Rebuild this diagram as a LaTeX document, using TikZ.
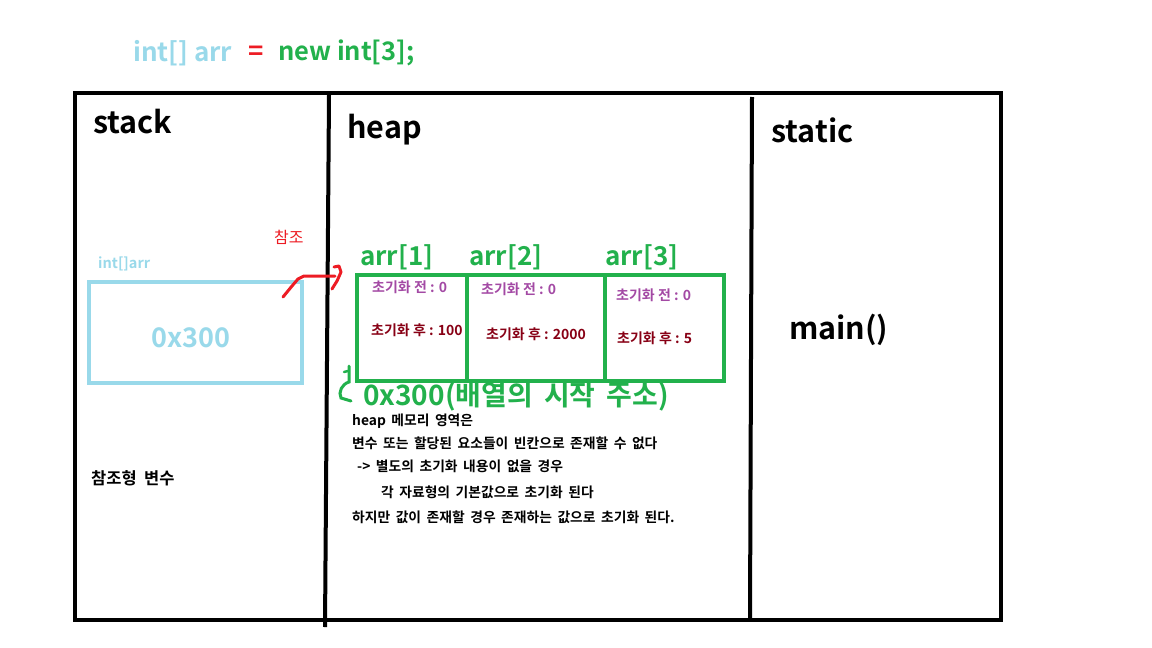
\documentclass[tikz,border=0pt]{standalone}
\usepackage{fontspec}
\setmainfont{Noto Sans CJK KR}[BoldFont={Noto Sans CJK KR Bold}]
\definecolor{lblue}{HTML}{99D9EA}
\definecolor{dgreen}{HTML}{22B14C}
\definecolor{pred}{HTML}{ED1C24}
\definecolor{ppurple}{HTML}{A349A4}
\definecolor{dred}{HTML}{880015}
\newcommand\mywsp[1]{\spaceskip=#1em\relax}
\tikzset{
  frame/.style={line width=4pt, black, line cap=rect},
  title/.style={font=\bfseries\fontsize{30.5}{32}\selectfont, anchor=west, inner sep=0pt},
  label/.style={font=\bfseries\fontsize{26}{28}\selectfont, anchor=west, inner sep=0pt},
  small/.style={font=\bfseries\fontsize{14}{16}\selectfont, anchor=west, inner sep=0pt},
  para/.style={font=\bfseries\fontsize{13.8}{16}\selectfont\mywsp{0.4}, anchor=west, inner sep=0pt},
  cellbox/.style={draw=dgreen, line width=4pt, minimum height=106pt, inner sep=0pt},
}
\begin{document}
\begin{tikzpicture}[x=1pt,y=-1pt]
\useasboundingbox[fill=white] (0,0) rectangle (1152,648);
% frame
\coordinate (tl) at (75,93);
\coordinate (tr) at (1001,93);
\coordinate (br) at (1001,620);
\coordinate (bl) at (75,620);
\draw[frame] (tl) -- (tr) -- (br) -- (bl) -- cycle;
\coordinate (d1t) at (329,95);
\coordinate (d1b) at (325,627);
\draw[line width=4pt] (d1t) -- (d1b);
\coordinate (d2t) at (752,97);
\coordinate (d2b) at (750,618);
\draw[line width=4pt] (d2t) -- (d2b);
% title
\node[label, font=\bfseries\fontsize{26}{28}\selectfont, text=lblue] (t1) at (133,53) {int[] arr};
\node[label, font=\bfseries\fontsize{26}{28}\selectfont, text=pred] (t2) at (248,53) {=};
\node[label, font=\bfseries\fontsize{25.5}{28}\selectfont, text=dgreen] (t3) at (278,53) {new int[3];};
% section titles
\node[title] (stack) at (93,122) {stack};
\node[title] (heap) at (347,130) {heap};
\node[title] (static) at (771,130) {static};
\node[title] (main) at (789,330) {main()};
% stack content
\node[small, text=lblue, font=\bfseries\fontsize{14.5}{16}\selectfont] (lbl) at (98,264) {int[]arr};
\node[draw=lblue, line width=4pt, minimum width=213pt, minimum height=101pt, inner sep=0pt] (sbox) at (195.5,332.5) {};
\node[font=\bfseries\fontsize{27}{29}\selectfont, text=lblue, inner sep=0pt] (sval) at (191,338) {0x300};
\node[small, font=\bfseries\fontsize{16.5}{18}\selectfont\mywsp{0.45}] (reftype) at (91,478) {참조형 변수};
\node[small, text=pred, font=\fontsize{16}{18}\selectfont] (ref) at (274,237) {참조};
% heap array
\node[cellbox, minimum width=110pt] (c1) at (412,328) {};
\node[cellbox, minimum width=138pt] (c2) at (536,328) {};
\node[cellbox, minimum width=119pt] (c3) at (664.5,328) {};
\node[label, text=dgreen] (a1) at (360,257) {arr[1]};
\node[label, text=dgreen] (a2) at (469,257) {arr[2]};
\node[label, text=dgreen] (a3) at (605,257) {arr[3]};
\node[small, text=ppurple] (b1) at (372,287) {초기화 전 : 0};
\node[small, text=dred] (f1) at (371,330) {초기화 후 : 100};
\node[small, text=ppurple] (b2) at (481,289) {초기화 전 : 0};
\node[small, text=dred] (f2) at (486,334) {초기화 후 : 2000};
\node[small, text=ppurple] (b3) at (616,295) {초기화 전 : 0};
\node[small, text=dred] (f3) at (617,338) {초기화 후 : 5};
\node[label, text=dgreen, font=\bfseries\fontsize{28}{30}\selectfont\mywsp{0.4}] (addr) at (363,397) {0x300(배열의 시작 주소)};
% paragraph
\node[para] (p1) at (352,421) {heap 메모리 영역은};
\node[para] (p2) at (352,443) {변수 또는 할당된 요소들이 빈칸으로 존재할 수 없다};
\node[para] (p3) at (357,466) {-> 별도의 초기화 내용이 없을 경우};
\node[para] (p4) at (381,492) {각 자료형의 기본값으로 초기화 된다};
\node[para] (p5) at (352,517) {하지만 값이 존재할 경우 존재하는 값으로 초기화 된다.};
% red reference arrow
\coordinate (rs) at (283,297);
\coordinate (re) at (335,276);
\draw[pred, line width=3pt, line cap=round, line join=round]
  (rs) -- (292,286) -- (298,279) -- (304,276) -- (re);
\draw[pred, line width=3pt, line cap=round, line join=round]
  (334,267) -- (339,266) -- (341,272) -- (337,281) -- (332,289);
% green hook
\draw[dgreen, line width=3pt, line cap=round]
  (349,366) -- (349,382) .. controls (342,384) and (338,392) .. (341,398) -- (351,401);
\draw[dgreen, line width=2.5pt, line cap=round] (344,372) -- (348,371);
\end{tikzpicture}
\end{document}
